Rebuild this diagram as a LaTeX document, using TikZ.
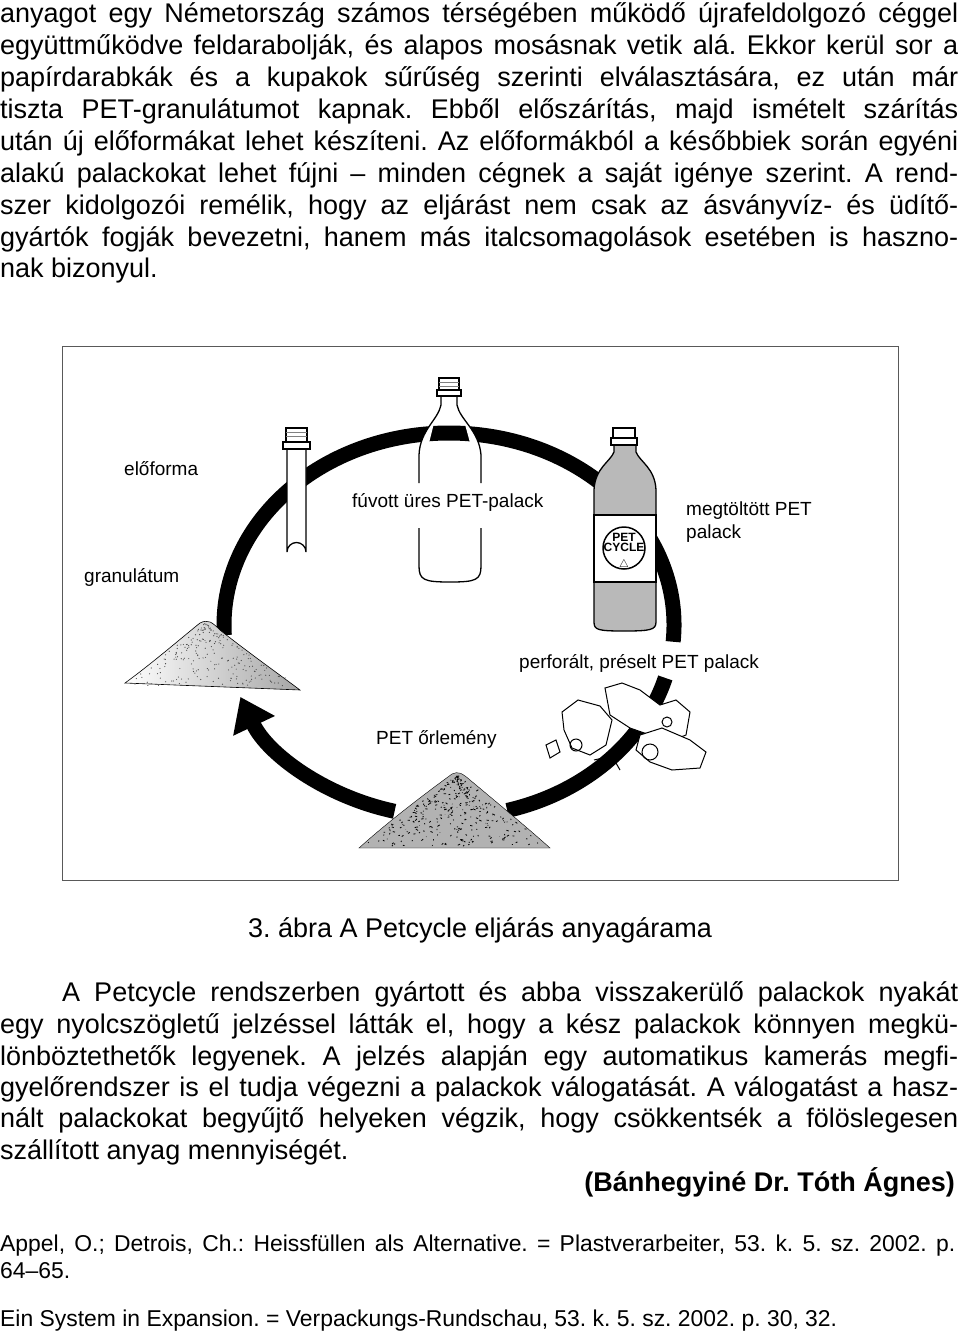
\documentclass[tikz,border=0pt]{standalone}
\usepackage{fontspec}
\setmainfont{Liberation Sans}
\usetikzlibrary{arrows.meta}
\frenchspacing
\newcommand\jline[2]{\node[anchor=base west,inner sep=0] at (0,#1) {\hbox to 958pt{#2}};}
\newcommand\jlineb[2]{\node[anchor=base west,inner sep=0] at (0,#1) {\hbox to 955pt{#2}};}
\begin{document}
\begin{tikzpicture}[x=1pt,y=-1pt,
  lab/.style={font=\fontsize{19}{23}\selectfont,align=left,inner sep=0},
  ring/.style={line width=15pt},
  outl/.style={line width=1.3pt}]
\useasboundingbox (0,0) rectangle (960,1335);
% top paragraph
\begin{scope}[every node/.style={font=\fontsize{27}{31}\selectfont}]
\jline{23}{anyagot egy Németország számos térségében működő újrafeldolgozó céggel}
\jline{55}{együttműködve feldarabolják, és alapos mosásnak vetik alá. Ekkor kerül sor a}
\jline{87}{papírdarabkák és a kupakok sűrűség szerinti elválasztására, ez után már}
\jline{119}{tiszta PET-granulátumot kapnak. Ebből előszárítás, majd ismételt szárítás}
\jline{150}{után új előformákat lehet készíteni. Az előformákból a későbbiek során egyéni}
\jline{182}{alakú palackokat lehet fújni – minden cégnek a saját igénye szerint. A rend-}
\jline{214}{szer kidolgozói remélik, hogy az eljárást nem csak az ásványvíz- és üdítő-}
\jline{246}{gyártók fogják bevezetni, hanem más italcsomagolások esetében is haszno-}
\node[anchor=base west,inner sep=0] (l9) at (0,277) {nak bizonyul.};
\node[anchor=base,inner sep=0] (cap) at (480,937) {3. ábra A Petcycle eljárás anyagárama};
\node[anchor=base west,inner sep=0] (p1) at (62,1001) {\hbox to 896pt{A Petcycle rendszerben gyártott és abba visszakerülő palackok nyakát}};
\jline{1033}{egy nyolcszögletű jelzéssel látták el, hogy a kész palackok könnyen megkü-}
\jline{1065}{lönböztethetők legyenek. A jelzés alapján egy automatikus kamerás megfi-}
\jline{1096}{gyelőrendszer is el tudja végezni a palackok válogatását. A válogatást a hasz-}
\jline{1127}{nált palackokat begyűjtő helyeken végzik, hogy csökkentsék a fölöslegesen}
\node[anchor=base west,inner sep=0] (l15) at (0,1159) {szállított anyag mennyiségét.};
\node[anchor=base east,inner sep=0,font=\fontsize{27}{31}\selectfont\bfseries] (auth) at (955,1191) {(Bánhegyiné Dr. Tóth Ágnes)};
\end{scope}
\begin{scope}[every node/.style={font=\fontsize{22.9}{26}\selectfont}]
\jlineb{1251}{Appel, O.; Detrois, Ch.: Heissfüllen als Alternative. = Plastverarbeiter, 53. k. 5. sz. 2002. p.}
\node[anchor=base west,inner sep=0] (r2) at (0,1278) {64–65.};
\node[anchor=base west,inner sep=0] (r3) at (0,1326) {Ein System in Expansion. = Verpackungs-Rundschau, 53. k. 5. sz. 2002. p. 30, 32.};
\end{scope}
% figure frame
\draw[gray!70!black,line width=1pt] (62,346) rectangle (898,880);
% ring
\coordinate (c) at (449,625);
\draw[ring] (c) ++(75:225 and 192) arc[start angle=75,end angle=16,x radius=225,y radius=192];
\draw[ring] (c) ++(5:225 and 192) arc[start angle=5,end angle=-183,x radius=225,y radius=192];
\draw[ring,-{Triangle[length=32pt,width=44pt]}] (c) ++(104:225 and 192) arc[start angle=104,end angle=158,x radius=225,y radius=192];
% preform
\draw[outl,fill=white] (287,448) -- (287,552) arc[start angle=180,end angle=0,x radius=9.5,y radius=-9.5] -- (306,448);
\draw[outl,fill=white] (283,442) rectangle (310,449);
\draw[outl,fill=white] (286,428) rectangle (307,442);
\draw[gray] (286,432)--(307,432) (286,436)--(307,436);
% blown bottle
\draw[outl,fill=white] (441,395) -- (441,405) .. controls (438,420) and (420,430) .. (419,455) -- (419,483);
\draw[outl,fill=white] (457,395) -- (457,405) .. controls (460,420) and (479,430) .. (481,455) -- (481,483);
\draw[outl] (437,390) rectangle (461,396);
\draw[outl,fill=white] (439,378) rectangle (459,390);
\draw[gray] (439,382)--(459,382) (439,386)--(459,386);
\draw[outl] (419,528) -- (419,566) .. controls (419,580) and (424,582) .. (450,582) .. controls (476,582) and (481,580) .. (481,566) -- (481,528);
% filled bottle
\draw[outl,fill=gray!55] (614,443) -- (614,452) .. controls (610,462) and (595,468) .. (594,490) -- (594,622) .. controls (594,630) and (598,631) .. (624,631) .. controls (650,631) and (656,630) .. (656,622) -- (656,490) .. controls (655,468) and (640,462) .. (636,452) -- (636,443) -- cycle;
\draw[outl,fill=white] (611,438) rectangle (637,445);
\draw[outl,fill=white] (613,428) rectangle (635,438);
\draw[outl,fill=white] (594,515) rectangle (656,582);
\node[inner sep=0,font=\fontsize{12}{12}\selectfont\bfseries,align=center] (pc) at (624,542) {PET\\[-2pt]CYCLE};
\draw[line width=1.5pt] (624,548) circle (21);
\node[inner sep=0,font=\fontsize{11}{11}\selectfont] (tri) at (624,565) {$\triangle$};
% granulate pile
\path[left color=white,right color=gray!70,draw=black,line width=0.6pt] (125,683) .. controls (150,665) and (185,635) .. (200,623) .. controls (208,619) and (212,622) .. (220,630) .. controls (245,650) and (280,675) .. (300,690) -- cycle;
\pgfmathsetseed{7}
\foreach \i in {1,...,220}{
  \pgfmathsetmacro\uu{rnd}\pgfmathsetmacro\vv{rnd*(1-\uu)}
  \fill[black!70] ({125+\uu*80+\vv*175},{685-\uu*62+\vv*3}) circle (0.6);}
% oerlemeny pile
\path[fill=gray!60,draw=black] (359,848) .. controls (390,820) and (430,790) .. (452,774) .. controls (458,771) and (462,773) .. (470,780) .. controls (500,805) and (530,830) .. (550,848) -- cycle;
\foreach \i in {1,...,300}{
  \pgfmathsetmacro\uu{rnd}\pgfmathsetmacro\vv{rnd*(1-\uu)}
  \draw[black,line width=0.8pt] ({362+\uu*95+\vv*185},{846-\uu*70}) -- ++({rnd*5-2.5},{rnd*3-1.5});}
% crushed bottles
\begin{scope}[outl,line width=1pt,fill=white]
\draw[fill=white] (562,712) -- (578,700) -- (600,706) -- (612,720) -- (606,745) -- (590,755) -- (572,748) -- (564,730) -- cycle;
\draw[fill=white] (605,688) -- (622,683) -- (640,690) -- (660,705) -- (676,700) -- (690,712) -- (686,735) -- (668,742) -- (650,735) -- (630,728) -- (610,715) -- cycle;
\draw[fill=white] (640,735) -- (662,728) -- (690,740) -- (706,752) -- (700,768) -- (672,770) -- (650,762) -- (636,750) -- cycle;
\draw[fill=white] (546,745) -- (556,740) -- (560,752) -- (550,758) -- cycle;
\draw (576,745) circle (6) (650,752) circle (8) (667,722) circle (5);
\draw (594,760) -- (612,756) -- (620,770);
\end{scope}
% labels
\node[lab,anchor=base west] (pre) at (124,475) {előforma};
\node[lab,anchor=base west] (blown) at (352,507) {fúvott üres PET-palack};
\node[lab,anchor=base west] (filled) at (686,538) {megtöltött PET\\palack};
\node[lab,anchor=base west] (gran) at (84,582) {granulátum};
\node[lab,anchor=base west] (perf) at (519,668) {perforált, préselt PET palack};
\node[lab,anchor=base west] (orl) at (376,744) {PET őrlemény};
\end{tikzpicture}
\end{document}
